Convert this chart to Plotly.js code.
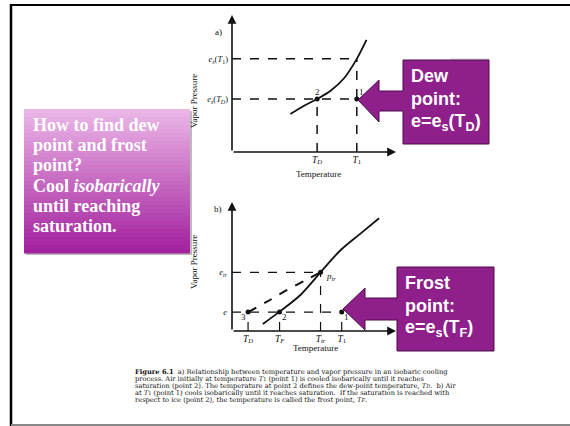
<!DOCTYPE html>
<html><head><meta charset="utf-8">
<script src="https://cdn.plot.ly/plotly-3.0.1.min.js"></script>
<style>html,body{margin:0;padding:0;background:#fff}#chart{width:570px;height:426px}</style>
</head><body><div id="chart"></div>
<script>
// ---------- Data (abstract temperature / vapour pressure units) ----------
// Panel a
const aCurveT = [3.56, 4.37, 5.19, 6.01, 6.83, 7.61, 8.2];
const aCurveE = [2.77, 3.36, 3.87, 4.47, 5.38, 6.80, 8.18];
const aTD = 5.19, aT1 = 7.61;
const aEsTD = 3.87, aEsT1 = 6.80;
const aTickT = [aTD, aT1];
const aTickTLabels = ['<i>T<sub>D</sub></i>', '<i>T</i><sub>1</sub>'];
const aTickE = [aEsTD, aEsT1];
const aTickELabels = ['<i>e<sub>s</sub></i>(<i>T<sub>D</sub></i>)', '<i>e<sub>s</sub></i>(<i>T</i><sub>1</sub>)'];
// Panel b
const bSolidT = [1.88, 2.90, 4.17, 5.40, 6.63, 7.85, 8.97];
const bSolidE = [0.54, 1.50, 2.79, 4.55, 6.28, 7.57, 8.74];
const bDashT = [0.98, 2.13, 3.36, 4.58, 5.40];
const bDashE = [1.47, 2.27, 3.18, 4.00, 4.55];
const bTD = 0.98, bTF = 2.90, bTtr = 5.40, bT1 = 6.69;
const bE = 1.47, bEtr = 4.55;
const bTickT = [bTD, bTF, bTtr, bT1];
const bTickTLabels = ['<i>T<sub>D</sub></i>', '<i>T<sub>F</sub></i>', '<i>T<sub>tr</sub></i>', '<i>T</i><sub>1</sub>'];
const bTickE = [bE, bEtr];
const bTickELabels = ['<i>e</i>', '<i>e<sub>tr</sub></i>'];

const W = 570, H = 426;
const px = x => x / W, py = y => 1 - y / H;
const serif = 'Liberation Serif, Times New Roman, serif';
const sans = 'Liberation Sans, Arial, sans-serif';
const blk = '#111';

const traces = [];
const dashLine = (xs, ys, xa, ya, w) => ({x: xs, y: ys, xaxis: xa, yaxis: ya, mode: 'lines',
  line: {color: blk, width: w || 1.5, dash: 'dash'}, hoverinfo: 'skip', showlegend: false});
// Panel a
traces.push({x: aCurveT, y: aCurveE, xaxis: 'x', yaxis: 'y', mode: 'lines', line: {color: blk, width: 1.8, shape: 'spline'}, showlegend: false});
traces.push(dashLine([0, aT1], [aEsT1, aEsT1], 'x', 'y'));
traces.push(dashLine([0, aT1], [aEsTD, aEsTD], 'x', 'y'));
traces.push(dashLine([aTD, aTD], [0, aEsTD], 'x', 'y'));
traces.push(dashLine([aT1, aT1], [0, aEsT1], 'x', 'y'));
traces.push({x: [aTD, aT1], y: [aEsTD, aEsTD], xaxis: 'x', yaxis: 'y', mode: 'markers', marker: {color: blk, size: 5}, showlegend: false});
// Panel b
traces.push({x: bSolidT, y: bSolidE, xaxis: 'x2', yaxis: 'y2', mode: 'lines', line: {color: blk, width: 1.8, shape: 'spline'}, showlegend: false});
traces.push({x: bDashT, y: bDashE, xaxis: 'x2', yaxis: 'y2', mode: 'lines', line: {color: blk, width: 2, dash: 'dash', shape: 'spline'}, showlegend: false});
traces.push(dashLine([0, bT1], [bE, bE], 'x2', 'y2', 1.2));
traces.push(dashLine([0, bTtr], [bEtr, bEtr], 'x2', 'y2', 1.2));
traces.push(dashLine([bTD, bTD], [0, bE], 'x2', 'y2', 1.2));
traces.push(dashLine([bTF, bTF], [0, bE], 'x2', 'y2', 1.2));
traces.push(dashLine([bTtr, bTtr], [0, bEtr], 'x2', 'y2', 1.2));
traces.push(dashLine([bT1, bT1], [0, bE], 'x2', 'y2', 1.2));
traces.push({x: [bTD, bTF, bTtr, bT1], y: [bE, bE, bEtr, bE], xaxis: 'x2', yaxis: 'y2', mode: 'markers', marker: {color: blk, size: 5}, showlegend: false});

const axCommon = {range: [0, 10], showgrid: false, zeroline: false, showline: false, ticks: '', fixedrange: true,
  tickfont: {family: serif, size: 9.5, color: blk}, tickmode: 'array'};
const yTickFont = {family: serif, size: 8.5, color: blk};
const layout = {
  width: W, height: H, margin: {l: 0, r: 0, t: 0, b: 0}, paper_bgcolor: '#fff', plot_bgcolor: 'rgba(0,0,0,0)',
  showlegend: false,
  xaxis: Object.assign({}, axCommon, {domain: [px(232), px(396)], anchor: 'y', tickvals: aTickT, ticktext: aTickTLabels}),
  yaxis: Object.assign({}, axCommon, {domain: [py(152), py(15)], anchor: 'x', tickvals: aTickE, ticktext: aTickELabels, tickfont: yTickFont, ticklabelstandoff: 3}),
  xaxis2: Object.assign({}, axCommon, {domain: [px(232), px(396)], anchor: 'y2', tickvals: bTickT, ticktext: bTickTLabels}),
  yaxis2: Object.assign({}, axCommon, {domain: [py(331), py(202)], anchor: 'x2', tickvals: bTickE, ticktext: bTickELabels, tickfont: yTickFont, ticklabelstandoff: 4}),
  shapes: [], annotations: []
};

// axis arrows
const axisArrow = (xa, ya, x, y) => ({xref: xa, yref: ya, axref: xa, ayref: ya, x: x, y: y, ax: 0, ay: 0,
  text: '', showarrow: true, arrowhead: 2, arrowsize: 1.1, arrowwidth: 1.6, arrowcolor: blk, standoff: 0, startstandoff: 0});
layout.annotations.push(axisArrow('x', 'y', 10, 0), axisArrow('x', 'y', 0, 10), axisArrow('x2', 'y2', 10, 0), axisArrow('x2', 'y2', 0, 10));

const ann = (o) => Object.assign({showarrow: false, font: {family: serif, size: 9, color: blk}}, o);
const f9 = {family: serif, size: 9, color: blk};
// panel labels and titles
layout.annotations.push(
  ann({xref: 'paper', yref: 'paper', x: px(218), y: py(25), text: 'a)'}),
  ann({xref: 'paper', yref: 'paper', x: px(218), y: py(209), text: 'b)'}),
  ann({xref: 'paper', yref: 'paper', x: px(318), y: py(174), text: 'Temperature', font: f9}),
  ann({xref: 'paper', yref: 'paper', x: px(315), y: py(355), text: 'Temperature', font: f9}),
  ann({xref: 'paper', yref: 'paper', x: px(194), y: py(72), text: 'Vapor Pressure', textangle: -90, font: f9}),
  ann({xref: 'paper', yref: 'paper', x: px(194), y: py(262), text: 'Vapor Pressure', textangle: -90, font: f9}),
  // point labels
  ann({xref: 'x', yref: 'y', x: aTD, y: aEsTD, yshift: 7, text: '2', font: f9}),
  ann({xref: 'x', yref: 'y', x: aT1, y: aEsTD, xshift: 5, yshift: 7, text: '1', font: f9}),
  ann({xref: 'x2', yref: 'y2', x: bTD, y: bE, xshift: -5, yshift: -5, text: '3', font: f9}),
  ann({xref: 'x2', yref: 'y2', x: bTF, y: bE, xshift: 5, yshift: -5, text: '2', font: f9}),
  ann({xref: 'x2', yref: 'y2', x: bT1, y: bE, xshift: 5, yshift: -5, text: '1', font: f9}),
  ann({xref: 'x2', yref: 'y2', x: bTtr, y: bEtr, xshift: 10, yshift: -4, text: '<i>p<sub>tr</sub></i>', font: f9})
);

// slide frame
layout.shapes.push(
  {type: 'line', xref: 'paper', yref: 'paper', x0: px(10), x1: 1, y0: py(5), y1: py(5), line: {color: '#000', width: 2}},
  {type: 'line', xref: 'paper', yref: 'paper', x0: px(11), x1: px(11), y0: py(4), y1: 0, line: {color: '#000', width: 2.5}},
  {type: 'line', xref: 'paper', yref: 'paper', x0: px(11), x1: 1, y0: py(425), y1: py(425), line: {color: '#888', width: 2}},
  {type: 'line', xref: 'paper', yref: 'paper', x0: px(450), x1: px(490), y0: py(59), y1: py(59), line: {color: '#ccc', width: 1}}
);

// left gradient box
const gTop = [234, 182, 230], gBot = [163, 32, 158];
const boxX0 = 24, boxX1 = 190, boxY0 = 109, boxY1 = 253, nStrip = 36;
layout.shapes.push({type: 'rect', xref: 'paper', yref: 'paper', x0: px(boxX0 + 2), x1: px(boxX1 + 2), y0: py(boxY0 + 2), y1: py(boxY1 + 2), fillcolor: '#bbb', line: {width: 0}});
for (let i = 0; i < nStrip; i++) {
  const t = i / (nStrip - 1);
  const c = gTop.map((v, k) => Math.round(v + (gBot[k] - v) * t));
  const y0 = boxY0 + (boxY1 - boxY0) * i / nStrip, y1 = boxY0 + (boxY1 - boxY0) * (i + 1) / nStrip;
  layout.shapes.push({type: 'rect', xref: 'paper', yref: 'paper', x0: px(boxX0), x1: px(boxX1), y0: py(y0), y1: py(y1 + 0.5),
    fillcolor: `rgb(${c[0]},${c[1]},${c[2]})`, line: {width: 0}});
}
const leftLines = ['How to find dew', 'point and frost', 'point?', 'Cool <i>isobarically</i>', 'until reaching', 'saturation.'];
leftLines.forEach((t, i) => layout.annotations.push(ann({xref: 'paper', yref: 'paper', x: px(31), y: py(125 + i * 20.2),
  xanchor: 'left', yanchor: 'middle', text: '<b>' + t + '</b>', font: {family: serif, size: 18, color: '#fff'}})));

// purple callouts
const poly = pts => 'M ' + pts.map(p => px(p[0]) + ',' + py(p[1])).join(' L ') + ' Z';
const purple = '#8E1F8B', edge = '#4a0d48';
layout.shapes.push({type: 'path', xref: 'paper', yref: 'paper', fillcolor: purple, line: {color: edge, width: 1},
  path: poly([[403, 60], [489, 60], [489, 144], [403, 144], [403, 111], [379, 111], [379, 122], [358, 100], [379, 80], [379, 91], [403, 91]])});
layout.shapes.push({type: 'path', xref: 'paper', yref: 'paper', fillcolor: purple, line: {color: edge, width: 1},
  path: poly([[397, 267], [494, 267], [494, 351], [397, 351], [397, 320], [365, 320], [365, 330], [343, 309], [365, 288], [365, 298], [397, 298]])});
const dewLines = ['Dew', 'point:', 'e=e<sub>s</sub>(T<sub>D</sub>)'];
dewLines.forEach((t, i) => layout.annotations.push(ann({xref: 'paper', yref: 'paper', x: px(409), y: py(76 + i * 23),
  xanchor: 'left', yanchor: 'middle', text: '<b>' + t + '</b>', font: {family: sans, size: 18, color: '#fff'}})));
const frostLines = ['Frost', 'point:', 'e=e<sub>s</sub>(T<sub>F</sub>)'];
frostLines.forEach((t, i) => layout.annotations.push(ann({xref: 'paper', yref: 'paper', x: px(403), y: py(283 + i * 22.5),
  xanchor: 'left', yanchor: 'middle', text: '<b>' + t + '</b>', font: {family: sans, size: 18, color: '#fff'}})));

// caption
const capSerif = 'DejaVu Serif, Liberation Serif, serif';
const capLines = [
  '<b>Figure 6.1</b>  a) Relationship between temperature and vapor pressure in an isobaric cooling',
  'process. Air initially at temperature <i>T</i><span style="font-size:5px">1</span> (point 1) is cooled isobarically until it reaches',
  'saturation (point 2). The temperature at point 2 defines the dew-point temperature, <i>T<span style="font-size:5px">D</span></i>.  b) Air',
  'at <i>T</i><span style="font-size:5px">1</span> (point 1) cools isobarically until it reaches saturation.  If the saturation is reached with',
  'respect to ice (point 2), the temperature is called the frost point, <i>T<span style="font-size:5px">F</span></i>.'
];
capLines.forEach((t, i) => layout.annotations.push(ann({xref: 'paper', yref: 'paper', x: px(133), y: py(372 + i * 7),
  xanchor: 'left', yanchor: 'middle', text: t, font: {family: capSerif, size: 6.7, color: blk}})));

Plotly.newPlot('chart', traces, layout, {displayModeBar: false, staticPlot: true});
</script></body></html>
